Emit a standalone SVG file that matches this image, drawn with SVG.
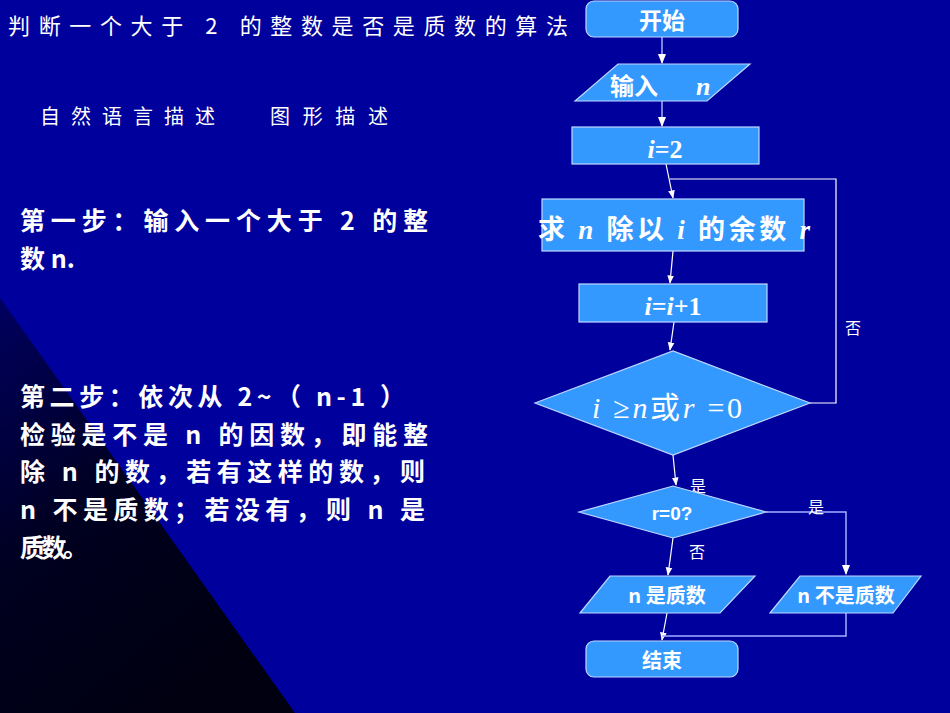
<svg xmlns="http://www.w3.org/2000/svg" width="950" height="713" viewBox="0 0 950 713">
<defs>
<linearGradient id="bg2" x1="0" y1="0" x2="0.6" y2="1"><stop offset="0" stop-color="#000060"/><stop offset="0.5" stop-color="#000020"/><stop offset="1" stop-color="#000010"/></linearGradient>
<marker id="ah" viewBox="0 0 10 10" refX="9" refY="5" markerWidth="7" markerHeight="7" orient="auto"><path d="M0,1 L10,5 L0,9 z" fill="#ffffff"/></marker>
<style>
.sh{fill:#3399ff;stroke:#c0d8ff;stroke-width:1.2}
.t{fill:#fff;font-family:"Noto Sans CJK SC",sans-serif;font-weight:bold}
.m{fill:#fff;font-family:"Liberation Serif","Noto Sans CJK SC",serif;font-weight:bold}
.c{stroke:#ffffff;stroke-width:1.2;fill:none}
.c2{stroke:#a0b0ff;stroke-width:1.5;fill:none}
.l{fill:#fff;font-family:"Noto Sans CJK SC",serif;font-size:16px}
</style>
</defs>
<rect width="950" height="713" fill="#00009c"/>
<polygon points="0,298 0,713 295,713" fill="url(#bg2)"/>
<g id="texts">
<text class="l" x="8" y="34" style="font-size:22px" textLength="560" lengthAdjust="spacing">判断一个大于 2 的整数是否是质数的算法</text>
<text class="l" x="40" y="124" style="font-size:20px" textLength="175" lengthAdjust="spacing">自然语言描述</text>
<text class="l" x="270" y="124" style="font-size:20px" textLength="118" lengthAdjust="spacing">图形描述</text>
<text class="t" x="20" y="230" font-size="25" textLength="408" lengthAdjust="spacing">第一步：输入一个大于 2 的整</text>
<text class="t" x="20" y="268" font-size="25">数 n.</text>
<text class="t" x="20" y="406" font-size="25" textLength="385" lengthAdjust="spacing">第二步：依次从 2~（ n-1 ）</text>
<text class="t" x="20" y="444" font-size="25" textLength="408" lengthAdjust="spacing">检验是不是 n 的因数，即能整</text>
<text class="t" x="20" y="481" font-size="25" textLength="405" lengthAdjust="spacing">除 n 的数，若有这样的数，则</text>
<text class="t" x="20" y="519" font-size="25" textLength="405" lengthAdjust="spacing">n 不是质数；若没有，则 n 是</text>
<text class="t" x="20" y="557" font-size="25" textLength="68" lengthAdjust="spacing">质数。</text>
</g>
<g id="connectors">
<line class="c2" x1="662" y1="37" x2="662" y2="63" marker-end="url(#ah)"/>
<line class="c2" x1="662" y1="101" x2="662" y2="126" marker-end="url(#ah)"/>
<line class="c" x1="666" y1="164" x2="673" y2="198" marker-end="url(#ah)"/>
<line class="c" x1="673" y1="251" x2="670" y2="283" marker-end="url(#ah)"/>
<line class="c" x1="674" y1="322" x2="670" y2="350" marker-end="url(#ah)"/>
<polyline class="c" points="810,403 836,403 836,179 670,179"/>
<line class="c" x1="673" y1="455" x2="676" y2="485" marker-end="url(#ah)"/>
<polyline class="c2" points="766,512 846,512 846,574" marker-end="url(#ah)"/>
<line class="c" x1="673" y1="538" x2="668" y2="575" marker-end="url(#ah)"/>
<line class="c" x1="667" y1="613" x2="662" y2="640" marker-end="url(#ah)"/>
<polyline class="c2" points="846,613 846,636 662,636"/>
<text class="l" x="845" y="334">否</text>
<text class="l" x="690" y="492">是</text>
<text class="l" x="808" y="513">是</text>
<text class="l" x="689" y="558">否</text>
</g>
<g id="start"><rect class="sh" x="586" y="1" width="152" height="36" rx="8"/><text class="t" x="662" y="29" font-size="23" text-anchor="middle">开始</text></g>
<g id="input"><polygon class="sh" points="575,101 618,64 750,64 707,101"/><text class="t" x="610" y="95" font-size="24">输入</text><text class="m" x="696" y="95" font-size="26" font-style="italic">n</text></g>
<g id="init"><rect class="sh" x="572" y="127" width="187" height="37"/><text class="m" x="665" y="158" font-size="26" text-anchor="middle"><tspan font-style="italic">i</tspan>=2</text></g>
<g id="rem"><rect class="sh" x="542" y="199" width="262" height="52"/><text class="t" x="538" y="239" font-size="27" textLength="272" lengthAdjust="spacing">求 <tspan class="m" font-style="italic">n</tspan> 除以 <tspan class="m" font-style="italic">i</tspan>  的余数 <tspan class="m" font-style="italic">r</tspan></text></g>
<g id="inc"><rect class="sh" x="579" y="284" width="188" height="38"/><text class="m" x="673" y="315" font-size="26" text-anchor="middle"><tspan font-style="italic">i</tspan>=<tspan font-style="italic">i</tspan>+1</text></g>
<g id="cond"><polygon class="sh" points="535,403 673,351 810,403 673,455"/><text x="592" y="418" font-size="30" fill="#fff" font-family="Liberation Serif,Noto Sans CJK SC,serif" textLength="150" lengthAdjust="spacing"><tspan font-style="italic">i</tspan> ≥<tspan font-style="italic">n</tspan>或<tspan font-style="italic">r</tspan> =0</text></g>
<g id="r0"><polygon class="sh" points="579,512 673,486 766,512 673,538"/><text x="672" y="520" font-size="19" fill="#fff" font-family="Liberation Sans,sans-serif" font-weight="bold" text-anchor="middle">r=0?</text></g>
<g id="prime"><polygon class="sh" points="580,613 610,576 755,576 720,613"/><text class="t" x="667" y="603" font-size="20" text-anchor="middle">n 是质数</text></g>
<g id="notprime"><polygon class="sh" points="770,613 800,576 921,576 893,613"/><text class="t" x="846" y="603" font-size="20" text-anchor="middle">n 不是质数</text></g>
<g id="end"><rect class="sh" x="586" y="641" width="152" height="36" rx="8"/><text class="t" x="662" y="668" font-size="20" text-anchor="middle">结束</text></g>
</svg>
